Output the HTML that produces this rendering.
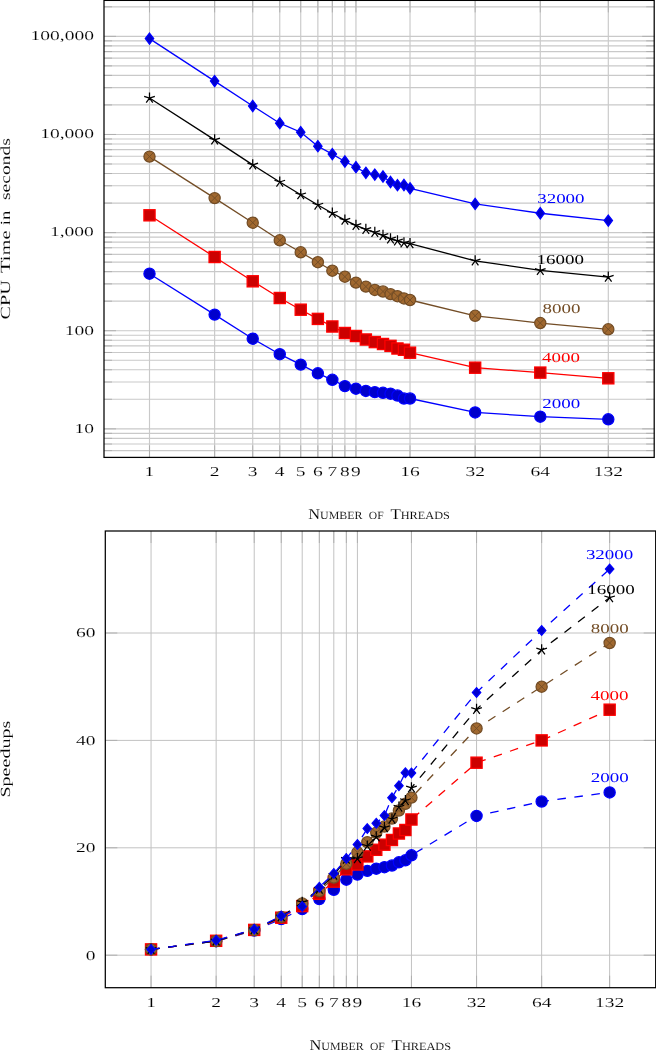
<!DOCTYPE html>
<html lang="en"><head><meta charset="utf-8"><title>CPU time and speedups</title>
<style>html,body{margin:0;padding:0;background:#fff}body{width:656px;height:1050px;overflow:hidden}svg{display:block;font-family:'Liberation Serif', serif}</style>
</head><body>
<svg width="656" height="1050" viewBox="0 0 656 1050">
<rect width="656" height="1050" fill="#fff"/>
<path d="M149.5 0.4L149.5 457.4M214.63 0.4L214.63 457.4M252.73 0.4L252.73 457.4M279.76 0.4L279.76 457.4M300.73 0.4L300.73 457.4M317.86 0.4L317.86 457.4M332.34 0.4L332.34 457.4M344.89 0.4L344.89 457.4M355.96 0.4L355.96 457.4M410.02 0.4L410.02 457.4M475.15 0.4L475.15 457.4M540.28 0.4L540.28 457.4M608.3 0.4L608.3 457.4" stroke="#c9c9c9" stroke-width="1.15" fill="none"/>
<path d="M104 428.83L654.2 428.83M104 330.71L654.2 330.71M104 232.59L654.2 232.59M104 134.47L654.2 134.47M104 36.35L654.2 36.35M104 450.6L654.2 450.6M104 444.03L654.2 444.03M104 438.34L654.2 438.34M104 433.32L654.2 433.32M104 399.29L654.2 399.29M104 382.01L654.2 382.01M104 369.76L654.2 369.76M104 360.25L654.2 360.25M104 352.48L654.2 352.48M104 345.91L654.2 345.91M104 340.22L654.2 340.22M104 335.2L654.2 335.2M104 301.17L654.2 301.17M104 283.89L654.2 283.89M104 271.64L654.2 271.64M104 262.13L654.2 262.13M104 254.36L654.2 254.36M104 247.79L654.2 247.79M104 242.1L654.2 242.1M104 237.08L654.2 237.08M104 203.05L654.2 203.05M104 185.77L654.2 185.77M104 173.52L654.2 173.52M104 164.01L654.2 164.01M104 156.24L654.2 156.24M104 149.67L654.2 149.67M104 143.98L654.2 143.98M104 138.96L654.2 138.96M104 104.93L654.2 104.93M104 87.65L654.2 87.65M104 75.4L654.2 75.4M104 65.89L654.2 65.89M104 58.12L654.2 58.12M104 51.55L654.2 51.55M104 45.86L654.2 45.86M104 40.84L654.2 40.84M104 6.81L654.2 6.81" stroke="#c9c9c9" stroke-width="1.15" fill="none"/>
<path d="M149.5 457.4L149.5 445.4M149.5 0.4L149.5 12.4M214.63 457.4L214.63 445.4M214.63 0.4L214.63 12.4M252.73 457.4L252.73 445.4M252.73 0.4L252.73 12.4M279.76 457.4L279.76 445.4M279.76 0.4L279.76 12.4M300.73 457.4L300.73 445.4M300.73 0.4L300.73 12.4M317.86 457.4L317.86 445.4M317.86 0.4L317.86 12.4M332.34 457.4L332.34 445.4M332.34 0.4L332.34 12.4M344.89 457.4L344.89 445.4M344.89 0.4L344.89 12.4M355.96 457.4L355.96 445.4M355.96 0.4L355.96 12.4M410.02 457.4L410.02 445.4M410.02 0.4L410.02 12.4M475.15 457.4L475.15 445.4M475.15 0.4L475.15 12.4M540.28 457.4L540.28 445.4M540.28 0.4L540.28 12.4M608.3 457.4L608.3 445.4M608.3 0.4L608.3 12.4M104 428.83L116 428.83M654.2 428.83L642.2 428.83M104 330.71L116 330.71M654.2 330.71L642.2 330.71M104 232.59L116 232.59M654.2 232.59L642.2 232.59M104 134.47L116 134.47M654.2 134.47L642.2 134.47M104 36.35L116 36.35M654.2 36.35L642.2 36.35M104 450.6L112 450.6M654.2 450.6L646.2 450.6M104 444.03L112 444.03M654.2 444.03L646.2 444.03M104 438.34L112 438.34M654.2 438.34L646.2 438.34M104 433.32L112 433.32M654.2 433.32L646.2 433.32M104 399.29L112 399.29M654.2 399.29L646.2 399.29M104 382.01L112 382.01M654.2 382.01L646.2 382.01M104 369.76L112 369.76M654.2 369.76L646.2 369.76M104 360.25L112 360.25M654.2 360.25L646.2 360.25M104 352.48L112 352.48M654.2 352.48L646.2 352.48M104 345.91L112 345.91M654.2 345.91L646.2 345.91M104 340.22L112 340.22M654.2 340.22L646.2 340.22M104 335.2L112 335.2M654.2 335.2L646.2 335.2M104 301.17L112 301.17M654.2 301.17L646.2 301.17M104 283.89L112 283.89M654.2 283.89L646.2 283.89M104 271.64L112 271.64M654.2 271.64L646.2 271.64M104 262.13L112 262.13M654.2 262.13L646.2 262.13M104 254.36L112 254.36M654.2 254.36L646.2 254.36M104 247.79L112 247.79M654.2 247.79L646.2 247.79M104 242.1L112 242.1M654.2 242.1L646.2 242.1M104 237.08L112 237.08M654.2 237.08L646.2 237.08M104 203.05L112 203.05M654.2 203.05L646.2 203.05M104 185.77L112 185.77M654.2 185.77L646.2 185.77M104 173.52L112 173.52M654.2 173.52L646.2 173.52M104 164.01L112 164.01M654.2 164.01L646.2 164.01M104 156.24L112 156.24M654.2 156.24L646.2 156.24M104 149.67L112 149.67M654.2 149.67L646.2 149.67M104 143.98L112 143.98M654.2 143.98L646.2 143.98M104 138.96L112 138.96M654.2 138.96L646.2 138.96M104 104.93L112 104.93M654.2 104.93L646.2 104.93M104 87.65L112 87.65M654.2 87.65L646.2 87.65M104 75.4L112 75.4M654.2 75.4L646.2 75.4M104 65.89L112 65.89M654.2 65.89L646.2 65.89M104 58.12L112 58.12M654.2 58.12L646.2 58.12M104 51.55L112 51.55M654.2 51.55L646.2 51.55M104 45.86L112 45.86M654.2 45.86L646.2 45.86M104 40.84L112 40.84M654.2 40.84L646.2 40.84M104 6.81L112 6.81M654.2 6.81L646.2 6.81" stroke="#adadad" stroke-width="0.9" fill="none"/>
<rect x="104" y="0.4" width="550.2" height="457" fill="none" stroke="#000" stroke-width="1.25"/>
<polyline points="149.5,273.7 214.63,314.6 252.73,338.7 279.76,354.2 300.73,364.6 317.86,373.3 332.34,379.8 344.89,386.1 355.96,388.7 365.86,390.9 374.81,392.1 382.99,392.8 390.51,393.7 397.47,395.5 403.96,398.5 410.02,398.5 475.15,412.4 540.28,416.65 608.3,419.3" fill="none" stroke="#0000ff" stroke-width="1.3"/>
<g fill="#0000cc" stroke="#0000ff" stroke-width="1.25" stroke-linejoin="miter"><circle cx="149.5" cy="273.7" r="5.6"/><circle cx="214.63" cy="314.6" r="5.6"/><circle cx="252.73" cy="338.7" r="5.6"/><circle cx="279.76" cy="354.2" r="5.6"/><circle cx="300.73" cy="364.6" r="5.6"/><circle cx="317.86" cy="373.3" r="5.6"/><circle cx="332.34" cy="379.8" r="5.6"/><circle cx="344.89" cy="386.1" r="5.6"/><circle cx="355.96" cy="388.7" r="5.6"/><circle cx="365.86" cy="390.9" r="5.6"/><circle cx="374.81" cy="392.1" r="5.6"/><circle cx="382.99" cy="392.8" r="5.6"/><circle cx="390.51" cy="393.7" r="5.6"/><circle cx="397.47" cy="395.5" r="5.6"/><circle cx="403.96" cy="398.5" r="5.6"/><circle cx="410.02" cy="398.5" r="5.6"/><circle cx="475.15" cy="412.4" r="5.6"/><circle cx="540.28" cy="416.65" r="5.6"/><circle cx="608.3" cy="419.3" r="5.6"/></g>
<polyline points="149.5,215.3 214.63,257 252.73,281.3 279.76,298 300.73,309.7 317.86,318.9 332.34,326.5 344.89,333 355.96,336 365.86,339.5 374.81,342.1 382.99,344 390.51,345.85 397.47,348.5 403.96,349.75 410.02,352.7 475.15,367.7 540.28,372.6 608.3,378.3" fill="none" stroke="#ff0000" stroke-width="1.3"/>
<g fill="#cc0000" stroke="#ff0000" stroke-width="1.25" stroke-linejoin="miter"><rect x="143.9" y="209.7" width="11.2" height="11.2"/><rect x="209.03" y="251.4" width="11.2" height="11.2"/><rect x="247.13" y="275.7" width="11.2" height="11.2"/><rect x="274.16" y="292.4" width="11.2" height="11.2"/><rect x="295.13" y="304.1" width="11.2" height="11.2"/><rect x="312.26" y="313.3" width="11.2" height="11.2"/><rect x="326.74" y="320.9" width="11.2" height="11.2"/><rect x="339.29" y="327.4" width="11.2" height="11.2"/><rect x="350.36" y="330.4" width="11.2" height="11.2"/><rect x="360.26" y="333.9" width="11.2" height="11.2"/><rect x="369.21" y="336.5" width="11.2" height="11.2"/><rect x="377.39" y="338.4" width="11.2" height="11.2"/><rect x="384.91" y="340.25" width="11.2" height="11.2"/><rect x="391.87" y="342.9" width="11.2" height="11.2"/><rect x="398.36" y="344.15" width="11.2" height="11.2"/><rect x="404.42" y="347.1" width="11.2" height="11.2"/><rect x="469.55" y="362.1" width="11.2" height="11.2"/><rect x="534.68" y="367" width="11.2" height="11.2"/><rect x="602.7" y="372.7" width="11.2" height="11.2"/></g>
<polyline points="149.5,156.6 214.63,198.1 252.73,222.7 279.76,240.3 300.73,252.3 317.86,262.2 332.34,270.7 344.89,276.7 355.96,282.6 365.86,286.6 374.81,289.9 382.99,291.5 390.51,294.1 397.47,296.2 403.96,298.4 410.02,300 475.15,315.8 540.28,323.05 608.3,329.3" fill="none" stroke="#734d26" stroke-width="1.3"/>
<g fill="#a0682f" stroke="#734d26" stroke-width="1.25" stroke-linejoin="miter"><circle cx="149.5" cy="156.6" r="5.6"/><path stroke-width="0.95" d="M145.54 152.64L153.46 160.56M145.54 160.56L153.46 152.64"/><circle cx="214.63" cy="198.1" r="5.6"/><path stroke-width="0.95" d="M210.67 194.14L218.59 202.06M210.67 202.06L218.59 194.14"/><circle cx="252.73" cy="222.7" r="5.6"/><path stroke-width="0.95" d="M248.77 218.74L256.69 226.66M248.77 226.66L256.69 218.74"/><circle cx="279.76" cy="240.3" r="5.6"/><path stroke-width="0.95" d="M275.8 236.34L283.72 244.26M275.8 244.26L283.72 236.34"/><circle cx="300.73" cy="252.3" r="5.6"/><path stroke-width="0.95" d="M296.77 248.34L304.69 256.26M296.77 256.26L304.69 248.34"/><circle cx="317.86" cy="262.2" r="5.6"/><path stroke-width="0.95" d="M313.9 258.24L321.82 266.16M313.9 266.16L321.82 258.24"/><circle cx="332.34" cy="270.7" r="5.6"/><path stroke-width="0.95" d="M328.38 266.74L336.3 274.66M328.38 274.66L336.3 266.74"/><circle cx="344.89" cy="276.7" r="5.6"/><path stroke-width="0.95" d="M340.93 272.74L348.85 280.66M340.93 280.66L348.85 272.74"/><circle cx="355.96" cy="282.6" r="5.6"/><path stroke-width="0.95" d="M352 278.64L359.92 286.56M352 286.56L359.92 278.64"/><circle cx="365.86" cy="286.6" r="5.6"/><path stroke-width="0.95" d="M361.9 282.64L369.82 290.56M361.9 290.56L369.82 282.64"/><circle cx="374.81" cy="289.9" r="5.6"/><path stroke-width="0.95" d="M370.85 285.94L378.77 293.86M370.85 293.86L378.77 285.94"/><circle cx="382.99" cy="291.5" r="5.6"/><path stroke-width="0.95" d="M379.03 287.54L386.95 295.46M379.03 295.46L386.95 287.54"/><circle cx="390.51" cy="294.1" r="5.6"/><path stroke-width="0.95" d="M386.55 290.14L394.47 298.06M386.55 298.06L394.47 290.14"/><circle cx="397.47" cy="296.2" r="5.6"/><path stroke-width="0.95" d="M393.51 292.24L401.43 300.16M393.51 300.16L401.43 292.24"/><circle cx="403.96" cy="298.4" r="5.6"/><path stroke-width="0.95" d="M400 294.44L407.92 302.36M400 302.36L407.92 294.44"/><circle cx="410.02" cy="300" r="5.6"/><path stroke-width="0.95" d="M406.06 296.04L413.98 303.96M406.06 303.96L413.98 296.04"/><circle cx="475.15" cy="315.8" r="5.6"/><path stroke-width="0.95" d="M471.19 311.84L479.11 319.76M471.19 319.76L479.11 311.84"/><circle cx="540.28" cy="323.05" r="5.6"/><path stroke-width="0.95" d="M536.32 319.09L544.24 327.01M536.32 327.01L544.24 319.09"/><circle cx="608.3" cy="329.3" r="5.6"/><path stroke-width="0.95" d="M604.34 325.34L612.26 333.26M604.34 333.26L612.26 325.34"/></g>
<polyline points="149.5,98.05 214.63,139.9 252.73,164.9 279.76,182 300.73,194.7 317.86,205 332.34,213.2 344.89,220.1 355.96,225.3 365.86,229.3 374.81,232.3 382.99,235.4 390.51,238.8 397.47,240.9 403.96,242.9 410.02,243.7 475.15,260.8 540.28,270.3 608.3,277.1" fill="none" stroke="#000000" stroke-width="1.3"/>
<g fill="none" stroke="#000000" stroke-width="1.25" stroke-linejoin="miter"><path d="M149.5 98.05L149.5 92.45M149.5 98.05L144.17 96.32M149.5 98.05L146.21 102.58M149.5 98.05L152.79 102.58M149.5 98.05L154.83 96.32"/><path d="M214.63 139.9L214.63 134.3M214.63 139.9L209.3 138.17M214.63 139.9L211.34 144.43M214.63 139.9L217.92 144.43M214.63 139.9L219.96 138.17"/><path d="M252.73 164.9L252.73 159.3M252.73 164.9L247.4 163.17M252.73 164.9L249.44 169.43M252.73 164.9L256.02 169.43M252.73 164.9L258.05 163.17"/><path d="M279.76 182L279.76 176.4M279.76 182L274.43 180.27M279.76 182L276.47 186.53M279.76 182L283.05 186.53M279.76 182L285.09 180.27"/><path d="M300.73 194.7L300.73 189.1M300.73 194.7L295.4 192.97M300.73 194.7L297.44 199.23M300.73 194.7L304.02 199.23M300.73 194.7L306.05 192.97"/><path d="M317.86 205L317.86 199.4M317.86 205L312.53 203.27M317.86 205L314.57 209.53M317.86 205L321.15 209.53M317.86 205L323.18 203.27"/><path d="M332.34 213.2L332.34 207.6M332.34 213.2L327.02 211.47M332.34 213.2L329.05 217.73M332.34 213.2L335.63 217.73M332.34 213.2L337.67 211.47"/><path d="M344.89 220.1L344.89 214.5M344.89 220.1L339.56 218.37M344.89 220.1L341.6 224.63M344.89 220.1L348.18 224.63M344.89 220.1L350.22 218.37"/><path d="M355.96 225.3L355.96 219.7M355.96 225.3L350.63 223.57M355.96 225.3L352.67 229.83M355.96 225.3L359.25 229.83M355.96 225.3L361.28 223.57"/><path d="M365.86 229.3L365.86 223.7M365.86 229.3L360.53 227.57M365.86 229.3L362.57 233.83M365.86 229.3L369.15 233.83M365.86 229.3L371.18 227.57"/><path d="M374.81 232.3L374.81 226.7M374.81 232.3L369.49 230.57M374.81 232.3L371.52 236.83M374.81 232.3L378.1 236.83M374.81 232.3L380.14 230.57"/><path d="M382.99 235.4L382.99 229.8M382.99 235.4L377.66 233.67M382.99 235.4L379.7 239.93M382.99 235.4L386.28 239.93M382.99 235.4L388.31 233.67"/><path d="M390.51 238.8L390.51 233.2M390.51 238.8L385.18 237.07M390.51 238.8L387.22 243.33M390.51 238.8L393.8 243.33M390.51 238.8L395.84 237.07"/><path d="M397.47 240.9L397.47 235.3M397.47 240.9L392.15 239.17M397.47 240.9L394.18 245.43M397.47 240.9L400.76 245.43M397.47 240.9L402.8 239.17"/><path d="M403.96 242.9L403.96 237.3M403.96 242.9L398.63 241.17M403.96 242.9L400.66 247.43M403.96 242.9L407.25 247.43M403.96 242.9L409.28 241.17"/><path d="M410.02 243.7L410.02 238.1M410.02 243.7L404.69 241.97M410.02 243.7L406.73 248.23M410.02 243.7L413.31 248.23M410.02 243.7L415.35 241.97"/><path d="M475.15 260.8L475.15 255.2M475.15 260.8L469.82 259.07M475.15 260.8L471.86 265.33M475.15 260.8L478.44 265.33M475.15 260.8L480.48 259.07"/><path d="M540.28 270.3L540.28 264.7M540.28 270.3L534.95 268.57M540.28 270.3L536.99 274.83M540.28 270.3L543.57 274.83M540.28 270.3L545.61 268.57"/><path d="M608.3 277.1L608.3 271.5M608.3 277.1L602.98 275.37M608.3 277.1L605.01 281.63M608.3 277.1L611.59 281.63M608.3 277.1L613.63 275.37"/></g>
<polyline points="149.5,38.6 214.63,81.1 252.73,106 279.76,123.2 300.73,132.2 317.86,146.2 332.34,154.1 344.89,161.5 355.96,167.2 365.86,172.8 374.81,174.6 382.99,176.5 390.51,182 397.47,185.2 403.96,185 410.02,188.3 475.15,203.9 540.28,213.25 608.3,220.6" fill="none" stroke="#0000ff" stroke-width="1.3"/>
<g fill="#0000cc" stroke="#0000ff" stroke-width="1.25" stroke-linejoin="miter"><path d="M149.5 33L153.7 38.6L149.5 44.2L145.3 38.6Z"/><path d="M214.63 75.5L218.83 81.1L214.63 86.7L210.43 81.1Z"/><path d="M252.73 100.4L256.93 106L252.73 111.6L248.53 106Z"/><path d="M279.76 117.6L283.96 123.2L279.76 128.8L275.56 123.2Z"/><path d="M300.73 126.6L304.93 132.2L300.73 137.8L296.53 132.2Z"/><path d="M317.86 140.6L322.06 146.2L317.86 151.8L313.66 146.2Z"/><path d="M332.34 148.5L336.54 154.1L332.34 159.7L328.14 154.1Z"/><path d="M344.89 155.9L349.09 161.5L344.89 167.1L340.69 161.5Z"/><path d="M355.96 161.6L360.16 167.2L355.96 172.8L351.76 167.2Z"/><path d="M365.86 167.2L370.06 172.8L365.86 178.4L361.66 172.8Z"/><path d="M374.81 169L379.01 174.6L374.81 180.2L370.61 174.6Z"/><path d="M382.99 170.9L387.19 176.5L382.99 182.1L378.79 176.5Z"/><path d="M390.51 176.4L394.71 182L390.51 187.6L386.31 182Z"/><path d="M397.47 179.6L401.67 185.2L397.47 190.8L393.27 185.2Z"/><path d="M403.96 179.4L408.16 185L403.96 190.6L399.76 185Z"/><path d="M410.02 182.7L414.22 188.3L410.02 193.9L405.82 188.3Z"/><path d="M475.15 198.3L479.35 203.9L475.15 209.5L470.95 203.9Z"/><path d="M540.28 207.65L544.48 213.25L540.28 218.85L536.08 213.25Z"/><path d="M608.3 215L612.5 220.6L608.3 226.2L604.1 220.6Z"/></g>
<path d="M151.05 531L151.05 987.7M216.15 531L216.15 987.7M254.23 531L254.23 987.7M281.25 531L281.25 987.7M302.21 531L302.21 987.7M319.33 531L319.33 987.7M333.81 531L333.81 987.7M346.35 531L346.35 987.7M357.41 531L357.41 987.7M411.45 531L411.45 987.7M476.55 531L476.55 987.7M541.65 531L541.65 987.7M609.64 531L609.64 987.7" stroke="#c2c2c2" stroke-width="1" fill="none"/>
<path d="M105.3 955.2L655.7 955.2M105.3 847.8L655.7 847.8M105.3 740.4L655.7 740.4M105.3 633L655.7 633" stroke="#c2c2c2" stroke-width="1" fill="none"/>
<path d="M151.05 987.7L151.05 975.7M151.05 531L151.05 543M216.15 987.7L216.15 975.7M216.15 531L216.15 543M254.23 987.7L254.23 975.7M254.23 531L254.23 543M281.25 987.7L281.25 975.7M281.25 531L281.25 543M302.21 987.7L302.21 975.7M302.21 531L302.21 543M319.33 987.7L319.33 975.7M319.33 531L319.33 543M333.81 987.7L333.81 975.7M333.81 531L333.81 543M346.35 987.7L346.35 975.7M346.35 531L346.35 543M357.41 987.7L357.41 975.7M357.41 531L357.41 543M411.45 987.7L411.45 975.7M411.45 531L411.45 543M476.55 987.7L476.55 975.7M476.55 531L476.55 543M541.65 987.7L541.65 975.7M541.65 531L541.65 543M609.64 987.7L609.64 975.7M609.64 531L609.64 543M105.3 955.2L117.3 955.2M655.7 955.2L643.7 955.2M105.3 847.8L117.3 847.8M655.7 847.8L643.7 847.8M105.3 740.4L117.3 740.4M655.7 740.4L643.7 740.4M105.3 633L117.3 633M655.7 633L643.7 633" stroke="#adadad" stroke-width="0.9" fill="none"/>
<rect x="105.3" y="531" width="550.4" height="456.7" fill="none" stroke="#000" stroke-width="1.25"/>
<polyline points="151.05,949.4 216.15,941.2 254.23,930.5 281.25,919.1 302.21,909.1 319.33,899.1 333.81,889.8 346.35,879.65 357.41,874.6" fill="none" stroke="#0000ff" stroke-width="1.3" stroke-dasharray="8.57 8.57"/>
<polyline points="357.41,874.6 367.31,870.85 376.26,868.7 384.43,867.2 391.95,865.5 398.91,862.3 405.39,860.3 411.45,855.3 476.55,815.95 541.65,801.5 609.64,792.4" fill="none" stroke="#0000ff" stroke-width="1.3" stroke-dasharray="8.57 8.57" stroke-dashoffset="6.11"/>
<g fill="#0000cc" stroke="#0000ff" stroke-width="1.25" stroke-linejoin="miter"><circle cx="151.05" cy="949.4" r="5.6"/><circle cx="216.15" cy="941.2" r="5.6"/><circle cx="254.23" cy="930.5" r="5.6"/><circle cx="281.25" cy="919.1" r="5.6"/><circle cx="302.21" cy="909.1" r="5.6"/><circle cx="319.33" cy="899.1" r="5.6"/><circle cx="333.81" cy="889.8" r="5.6"/><circle cx="346.35" cy="879.65" r="5.6"/><circle cx="357.41" cy="874.6" r="5.6"/><circle cx="367.31" cy="870.85" r="5.6"/><circle cx="376.26" cy="868.7" r="5.6"/><circle cx="384.43" cy="867.2" r="5.6"/><circle cx="391.95" cy="865.5" r="5.6"/><circle cx="398.91" cy="862.3" r="5.6"/><circle cx="405.39" cy="860.3" r="5.6"/><circle cx="411.45" cy="855.3" r="5.6"/><circle cx="476.55" cy="815.95" r="5.6"/><circle cx="541.65" cy="801.5" r="5.6"/><circle cx="609.64" cy="792.4" r="5.6"/></g>
<polyline points="151.05,949.4 216.15,940.8 254.23,929.9 281.25,917.7 302.21,906.1 319.33,893.8 333.81,881.6 346.35,869.3 357.41,864.5" fill="none" stroke="#ff0000" stroke-width="1.3" stroke-dasharray="8.57 8.57"/>
<polyline points="357.41,864.5 367.31,856.4 376.26,849.8 384.43,844.7 391.95,840 398.91,833.5 405.39,830 411.45,819.5 476.55,762.7 541.65,740.4 609.64,709.7" fill="none" stroke="#ff0000" stroke-width="1.3" stroke-dasharray="8.57 8.57" stroke-dashoffset="12.53"/>
<g fill="#cc0000" stroke="#ff0000" stroke-width="1.25" stroke-linejoin="miter"><rect x="145.45" y="943.8" width="11.2" height="11.2"/><rect x="210.55" y="935.2" width="11.2" height="11.2"/><rect x="248.63" y="924.3" width="11.2" height="11.2"/><rect x="275.65" y="912.1" width="11.2" height="11.2"/><rect x="296.61" y="900.5" width="11.2" height="11.2"/><rect x="313.73" y="888.2" width="11.2" height="11.2"/><rect x="328.21" y="876" width="11.2" height="11.2"/><rect x="340.75" y="863.7" width="11.2" height="11.2"/><rect x="351.81" y="858.9" width="11.2" height="11.2"/><rect x="361.71" y="850.8" width="11.2" height="11.2"/><rect x="370.66" y="844.2" width="11.2" height="11.2"/><rect x="378.83" y="839.1" width="11.2" height="11.2"/><rect x="386.35" y="834.4" width="11.2" height="11.2"/><rect x="393.31" y="827.9" width="11.2" height="11.2"/><rect x="399.79" y="824.4" width="11.2" height="11.2"/><rect x="405.85" y="813.9" width="11.2" height="11.2"/><rect x="470.95" y="757.1" width="11.2" height="11.2"/><rect x="536.05" y="734.8" width="11.2" height="11.2"/><rect x="604.04" y="704.1" width="11.2" height="11.2"/></g>
<polyline points="151.05,949.4 216.15,941 254.23,930 281.25,916.9 302.21,903.5 319.33,891 333.81,877.6 346.35,863.7 357.41,852.3" fill="none" stroke="#734d26" stroke-width="1.3" stroke-dasharray="8.57 8.57"/>
<polyline points="357.41,852.3 367.31,842.2 376.26,832.8 384.43,826.5 391.95,818.5 398.91,810.5 405.39,803.8 411.45,797.6 476.55,728.4 541.65,686.7 609.64,643" fill="none" stroke="#734d26" stroke-width="1.3" stroke-dasharray="8.57 8.57" stroke-dashoffset="2.67"/>
<g fill="#a0682f" stroke="#734d26" stroke-width="1.25" stroke-linejoin="miter"><circle cx="151.05" cy="949.4" r="5.6"/><path stroke-width="0.95" d="M147.09 945.44L155.01 953.36M147.09 953.36L155.01 945.44"/><circle cx="216.15" cy="941" r="5.6"/><path stroke-width="0.95" d="M212.19 937.04L220.11 944.96M212.19 944.96L220.11 937.04"/><circle cx="254.23" cy="930" r="5.6"/><path stroke-width="0.95" d="M250.27 926.04L258.19 933.96M250.27 933.96L258.19 926.04"/><circle cx="281.25" cy="916.9" r="5.6"/><path stroke-width="0.95" d="M277.29 912.94L285.21 920.86M277.29 920.86L285.21 912.94"/><circle cx="302.21" cy="903.5" r="5.6"/><path stroke-width="0.95" d="M298.25 899.54L306.17 907.46M298.25 907.46L306.17 899.54"/><circle cx="319.33" cy="891" r="5.6"/><path stroke-width="0.95" d="M315.37 887.04L323.29 894.96M315.37 894.96L323.29 887.04"/><circle cx="333.81" cy="877.6" r="5.6"/><path stroke-width="0.95" d="M329.85 873.64L337.77 881.56M329.85 881.56L337.77 873.64"/><circle cx="346.35" cy="863.7" r="5.6"/><path stroke-width="0.95" d="M342.39 859.74L350.31 867.66M342.39 867.66L350.31 859.74"/><circle cx="357.41" cy="852.3" r="5.6"/><path stroke-width="0.95" d="M353.45 848.34L361.37 856.26M353.45 856.26L361.37 848.34"/><circle cx="367.31" cy="842.2" r="5.6"/><path stroke-width="0.95" d="M363.35 838.24L371.27 846.16M363.35 846.16L371.27 838.24"/><circle cx="376.26" cy="832.8" r="5.6"/><path stroke-width="0.95" d="M372.3 828.84L380.22 836.76M372.3 836.76L380.22 828.84"/><circle cx="384.43" cy="826.5" r="5.6"/><path stroke-width="0.95" d="M380.47 822.54L388.39 830.46M380.47 830.46L388.39 822.54"/><circle cx="391.95" cy="818.5" r="5.6"/><path stroke-width="0.95" d="M387.99 814.54L395.91 822.46M387.99 822.46L395.91 814.54"/><circle cx="398.91" cy="810.5" r="5.6"/><path stroke-width="0.95" d="M394.95 806.54L402.87 814.46M394.95 814.46L402.87 806.54"/><circle cx="405.39" cy="803.8" r="5.6"/><path stroke-width="0.95" d="M401.43 799.84L409.35 807.76M401.43 807.76L409.35 799.84"/><circle cx="411.45" cy="797.6" r="5.6"/><path stroke-width="0.95" d="M407.49 793.64L415.41 801.56M407.49 801.56L415.41 793.64"/><circle cx="476.55" cy="728.4" r="5.6"/><path stroke-width="0.95" d="M472.59 724.44L480.51 732.36M472.59 732.36L480.51 724.44"/><circle cx="541.65" cy="686.7" r="5.6"/><path stroke-width="0.95" d="M537.69 682.74L545.61 690.66M537.69 690.66L545.61 682.74"/><circle cx="609.64" cy="643" r="5.6"/><path stroke-width="0.95" d="M605.68 639.04L613.6 646.96M605.68 646.96L613.6 639.04"/></g>
<polyline points="151.05,949.4 216.15,940.9 254.23,929.5 281.25,916.7 302.21,902.3 319.33,889 333.81,875.2 346.35,859.1 357.41,858.6" fill="none" stroke="#000000" stroke-width="1.3" stroke-dasharray="8.57 8.57"/>
<polyline points="357.41,858.6 367.31,846 376.26,836.8 384.43,827.6 391.95,819 398.91,807 405.39,800.5 411.45,787.8 476.55,709.3 541.65,649.9 609.64,597.7" fill="none" stroke="#000000" stroke-width="1.3" stroke-dasharray="8.57 8.57" stroke-dashoffset="17.1"/>
<g fill="none" stroke="#000000" stroke-width="1.25" stroke-linejoin="miter"><path d="M151.05 949.4L151.05 943.8M151.05 949.4L145.72 947.67M151.05 949.4L147.76 953.93M151.05 949.4L154.34 953.93M151.05 949.4L156.38 947.67"/><path d="M216.15 940.9L216.15 935.3M216.15 940.9L210.82 939.17M216.15 940.9L212.86 945.43M216.15 940.9L219.44 945.43M216.15 940.9L221.48 939.17"/><path d="M254.23 929.5L254.23 923.9M254.23 929.5L248.91 927.77M254.23 929.5L250.94 934.03M254.23 929.5L257.52 934.03M254.23 929.5L259.56 927.77"/><path d="M281.25 916.7L281.25 911.1M281.25 916.7L275.92 914.97M281.25 916.7L277.96 921.23M281.25 916.7L284.54 921.23M281.25 916.7L286.58 914.97"/><path d="M302.21 902.3L302.21 896.7M302.21 902.3L296.88 900.57M302.21 902.3L298.92 906.83M302.21 902.3L305.5 906.83M302.21 902.3L307.53 900.57"/><path d="M319.33 889L319.33 883.4M319.33 889L314.01 887.27M319.33 889L316.04 893.53M319.33 889L322.62 893.53M319.33 889L324.66 887.27"/><path d="M333.81 875.2L333.81 869.6M333.81 875.2L328.48 873.47M333.81 875.2L330.52 879.73M333.81 875.2L337.1 879.73M333.81 875.2L339.13 873.47"/><path d="M346.35 859.1L346.35 853.5M346.35 859.1L341.02 857.37M346.35 859.1L343.06 863.63M346.35 859.1L349.64 863.63M346.35 859.1L351.68 857.37"/><path d="M357.41 858.6L357.41 853M357.41 858.6L352.09 856.87M357.41 858.6L354.12 863.13M357.41 858.6L360.7 863.13M357.41 858.6L362.74 856.87"/><path d="M367.31 846L367.31 840.4M367.31 846L361.98 844.27M367.31 846L364.02 850.53M367.31 846L370.6 850.53M367.31 846L372.63 844.27"/><path d="M376.26 836.8L376.26 831.2M376.26 836.8L370.93 835.07M376.26 836.8L372.97 841.33M376.26 836.8L379.55 841.33M376.26 836.8L381.58 835.07"/><path d="M384.43 827.6L384.43 822M384.43 827.6L379.11 825.87M384.43 827.6L381.14 832.13M384.43 827.6L387.72 832.13M384.43 827.6L389.76 825.87"/><path d="M391.95 819L391.95 813.4M391.95 819L386.62 817.27M391.95 819L388.66 823.53M391.95 819L395.24 823.53M391.95 819L397.27 817.27"/><path d="M398.91 807L398.91 801.4M398.91 807L393.58 805.27M398.91 807L395.62 811.53M398.91 807L402.2 811.53M398.91 807L404.23 805.27"/><path d="M405.39 800.5L405.39 794.9M405.39 800.5L400.06 798.77M405.39 800.5L402.1 805.03M405.39 800.5L408.68 805.03M405.39 800.5L410.71 798.77"/><path d="M411.45 787.8L411.45 782.2M411.45 787.8L406.12 786.07M411.45 787.8L408.16 792.33M411.45 787.8L414.74 792.33M411.45 787.8L416.78 786.07"/><path d="M476.55 709.3L476.55 703.7M476.55 709.3L471.22 707.57M476.55 709.3L473.26 713.83M476.55 709.3L479.84 713.83M476.55 709.3L481.88 707.57"/><path d="M541.65 649.9L541.65 644.3M541.65 649.9L536.32 648.17M541.65 649.9L538.36 654.43M541.65 649.9L544.94 654.43M541.65 649.9L546.98 648.17"/><path d="M609.64 597.7L609.64 592.1M609.64 597.7L604.31 595.97M609.64 597.7L606.35 602.23M609.64 597.7L612.93 602.23M609.64 597.7L614.97 595.97"/></g>
<polyline points="151.05,949.4 216.15,940.3 254.23,929.3 281.25,915.9 302.21,906.5 319.33,887.2 333.81,873.4 346.35,858.6 357.41,844.5" fill="none" stroke="#0000ff" stroke-width="1.3" stroke-dasharray="8.57 8.57"/>
<polyline points="357.41,844.5 367.31,828.6 376.26,823.2 384.43,815.6 391.95,797.7 398.91,785.7 405.39,772.7 411.45,772.9 476.55,692.4 541.65,630.5 609.64,569" fill="none" stroke="#0000ff" stroke-width="1.3" stroke-dasharray="8.57 8.57" stroke-dashoffset="8.54"/>
<g fill="#0000cc" stroke="#0000ff" stroke-width="1.25" stroke-linejoin="miter"><path d="M151.05 944.6L155.25 949.4L151.05 954.2L146.85 949.4Z"/><path d="M216.15 935.5L220.35 940.3L216.15 945.1L211.95 940.3Z"/><path d="M254.23 924.5L258.43 929.3L254.23 934.1L250.03 929.3Z"/><path d="M281.25 911.1L285.45 915.9L281.25 920.7L277.05 915.9Z"/><path d="M302.21 901.7L306.41 906.5L302.21 911.3L298.01 906.5Z"/><path d="M319.33 882.4L323.53 887.2L319.33 892L315.13 887.2Z"/><path d="M333.81 868.6L338.01 873.4L333.81 878.2L329.61 873.4Z"/><path d="M346.35 853.8L350.55 858.6L346.35 863.4L342.15 858.6Z"/><path d="M357.41 839.7L361.61 844.5L357.41 849.3L353.21 844.5Z"/><path d="M367.31 823.8L371.51 828.6L367.31 833.4L363.11 828.6Z"/><path d="M376.26 818.4L380.46 823.2L376.26 828L372.06 823.2Z"/><path d="M384.43 810.8L388.63 815.6L384.43 820.4L380.23 815.6Z"/><path d="M391.95 792.9L396.15 797.7L391.95 802.5L387.75 797.7Z"/><path d="M398.91 780.9L403.11 785.7L398.91 790.5L394.71 785.7Z"/><path d="M405.39 767.9L409.59 772.7L405.39 777.5L401.19 772.7Z"/><path d="M411.45 768.1L415.65 772.9L411.45 777.7L407.25 772.9Z"/><path d="M476.55 687.6L480.75 692.4L476.55 697.2L472.35 692.4Z"/><path d="M541.65 625.7L545.85 630.5L541.65 635.3L537.45 630.5Z"/><path d="M609.64 564.2L613.84 569L609.64 573.8L605.44 569Z"/></g>
<g opacity="0.999" text-rendering="geometricPrecision" stroke="#fff" stroke-width="0.1">
<text x="93.9" y="39.65" font-size="13.6" text-anchor="end" fill="#000" textLength="63.4" lengthAdjust="spacingAndGlyphs">100,000</text>
<text x="93.9" y="137.77" font-size="13.6" text-anchor="end" fill="#000" textLength="53.66" lengthAdjust="spacingAndGlyphs">10,000</text>
<text x="93.9" y="235.89" font-size="13.6" text-anchor="end" fill="#000" textLength="43.92" lengthAdjust="spacingAndGlyphs">1,000</text>
<text x="93.9" y="335.11" font-size="13.6" text-anchor="end" fill="#000" textLength="29.22" lengthAdjust="spacingAndGlyphs">100</text>
<text x="93.9" y="433.23" font-size="13.6" text-anchor="end" fill="#000" textLength="19.48" lengthAdjust="spacingAndGlyphs">10</text>
<text x="95.5" y="959.5" font-size="13.6" text-anchor="end" fill="#000" textLength="9.74" lengthAdjust="spacingAndGlyphs">0</text>
<text x="95.5" y="852.1" font-size="13.6" text-anchor="end" fill="#000" textLength="19.48" lengthAdjust="spacingAndGlyphs">20</text>
<text x="95.5" y="744.7" font-size="13.6" text-anchor="end" fill="#000" textLength="19.48" lengthAdjust="spacingAndGlyphs">40</text>
<text x="95.5" y="637.3" font-size="13.6" text-anchor="end" fill="#000" textLength="19.48" lengthAdjust="spacingAndGlyphs">60</text>
<text x="149.5" y="476.3" font-size="13.6" text-anchor="middle" fill="#000" textLength="9.74" lengthAdjust="spacingAndGlyphs">1</text>
<text x="214.63" y="476.3" font-size="13.6" text-anchor="middle" fill="#000" textLength="9.74" lengthAdjust="spacingAndGlyphs">2</text>
<text x="252.73" y="476.3" font-size="13.6" text-anchor="middle" fill="#000" textLength="9.74" lengthAdjust="spacingAndGlyphs">3</text>
<text x="279.76" y="476.3" font-size="13.6" text-anchor="middle" fill="#000" textLength="9.74" lengthAdjust="spacingAndGlyphs">4</text>
<text x="300.73" y="476.3" font-size="13.6" text-anchor="middle" fill="#000" textLength="9.74" lengthAdjust="spacingAndGlyphs">5</text>
<text x="317.86" y="476.3" font-size="13.6" text-anchor="middle" fill="#000" textLength="9.74" lengthAdjust="spacingAndGlyphs">6</text>
<text x="332.34" y="476.3" font-size="13.6" text-anchor="middle" fill="#000" textLength="9.74" lengthAdjust="spacingAndGlyphs">7</text>
<text x="344.89" y="476.3" font-size="13.6" text-anchor="middle" fill="#000" textLength="9.74" lengthAdjust="spacingAndGlyphs">8</text>
<text x="355.96" y="476.3" font-size="13.6" text-anchor="middle" fill="#000" textLength="9.74" lengthAdjust="spacingAndGlyphs">9</text>
<text x="410.02" y="476.3" font-size="13.6" text-anchor="middle" fill="#000" textLength="19.48" lengthAdjust="spacingAndGlyphs">16</text>
<text x="475.15" y="476.3" font-size="13.6" text-anchor="middle" fill="#000" textLength="19.48" lengthAdjust="spacingAndGlyphs">32</text>
<text x="540.28" y="476.3" font-size="13.6" text-anchor="middle" fill="#000" textLength="19.48" lengthAdjust="spacingAndGlyphs">64</text>
<text x="608.3" y="476.3" font-size="13.6" text-anchor="middle" fill="#000" textLength="29.22" lengthAdjust="spacingAndGlyphs">132</text>
<text x="151.05" y="1006.6" font-size="13.6" text-anchor="middle" fill="#000" textLength="9.74" lengthAdjust="spacingAndGlyphs">1</text>
<text x="216.15" y="1006.6" font-size="13.6" text-anchor="middle" fill="#000" textLength="9.74" lengthAdjust="spacingAndGlyphs">2</text>
<text x="254.23" y="1006.6" font-size="13.6" text-anchor="middle" fill="#000" textLength="9.74" lengthAdjust="spacingAndGlyphs">3</text>
<text x="281.25" y="1006.6" font-size="13.6" text-anchor="middle" fill="#000" textLength="9.74" lengthAdjust="spacingAndGlyphs">4</text>
<text x="302.21" y="1006.6" font-size="13.6" text-anchor="middle" fill="#000" textLength="9.74" lengthAdjust="spacingAndGlyphs">5</text>
<text x="319.33" y="1006.6" font-size="13.6" text-anchor="middle" fill="#000" textLength="9.74" lengthAdjust="spacingAndGlyphs">6</text>
<text x="333.81" y="1006.6" font-size="13.6" text-anchor="middle" fill="#000" textLength="9.74" lengthAdjust="spacingAndGlyphs">7</text>
<text x="346.35" y="1006.6" font-size="13.6" text-anchor="middle" fill="#000" textLength="9.74" lengthAdjust="spacingAndGlyphs">8</text>
<text x="357.41" y="1006.6" font-size="13.6" text-anchor="middle" fill="#000" textLength="9.74" lengthAdjust="spacingAndGlyphs">9</text>
<text x="411.45" y="1006.6" font-size="13.6" text-anchor="middle" fill="#000" textLength="19.48" lengthAdjust="spacingAndGlyphs">16</text>
<text x="476.55" y="1006.6" font-size="13.6" text-anchor="middle" fill="#000" textLength="19.48" lengthAdjust="spacingAndGlyphs">32</text>
<text x="541.65" y="1006.6" font-size="13.6" text-anchor="middle" fill="#000" textLength="19.48" lengthAdjust="spacingAndGlyphs">64</text>
<text x="609.64" y="1006.6" font-size="13.6" text-anchor="middle" fill="#000" textLength="29.22" lengthAdjust="spacingAndGlyphs">132</text>
<text x="537.2" y="203.2" font-size="13.6" text-anchor="start" fill="#0000ff" textLength="47.4" lengthAdjust="spacingAndGlyphs" stroke="none">32000</text>
<text x="536.6" y="264.2" font-size="13.6" text-anchor="start" fill="#000" textLength="47.4" lengthAdjust="spacingAndGlyphs" stroke="none">16000</text>
<text x="542.5" y="312.7" font-size="13.6" text-anchor="start" fill="#734d26" textLength="37.92" lengthAdjust="spacingAndGlyphs" stroke="none">8000</text>
<text x="542" y="361.75" font-size="13.6" text-anchor="start" fill="#ff0000" textLength="37.92" lengthAdjust="spacingAndGlyphs" stroke="none">4000</text>
<text x="542.3" y="407.5" font-size="13.6" text-anchor="start" fill="#0000ff" textLength="37.92" lengthAdjust="spacingAndGlyphs" stroke="none">2000</text>
<text x="609.6" y="558.9" font-size="13.6" text-anchor="middle" fill="#0000ff" textLength="47.4" lengthAdjust="spacingAndGlyphs" stroke="none">32000</text>
<text x="611" y="593.5" font-size="13.6" text-anchor="middle" fill="#000" textLength="47.4" lengthAdjust="spacingAndGlyphs" stroke="none">16000</text>
<text x="609.8" y="633.3" font-size="13.6" text-anchor="middle" fill="#734d26" textLength="37.92" lengthAdjust="spacingAndGlyphs" stroke="none">8000</text>
<text x="609.5" y="699.6" font-size="13.6" text-anchor="middle" fill="#ff0000" textLength="37.92" lengthAdjust="spacingAndGlyphs" stroke="none">4000</text>
<text x="609.8" y="782.4" font-size="13.6" text-anchor="middle" fill="#0000ff" textLength="37.92" lengthAdjust="spacingAndGlyphs" stroke="none">2000</text>
<g transform="translate(10.2 319.2) rotate(-90)" font-size="14">
<text x="-0.3" y="0" font-size="14" text-anchor="start" fill="#000" textLength="39.3" lengthAdjust="spacingAndGlyphs">CPU</text>
<text x="46.2" y="0" font-size="14" text-anchor="start" fill="#000" textLength="42.6" lengthAdjust="spacingAndGlyphs">Time</text>
<text x="94" y="0" font-size="14" text-anchor="start" fill="#000" textLength="14.6" lengthAdjust="spacingAndGlyphs">in</text>
<text x="119.2" y="0" font-size="14" text-anchor="start" fill="#000" textLength="61.8" lengthAdjust="spacingAndGlyphs">seconds</text>
</g>
<text transform="translate(10 759.1) rotate(-90)" font-size="14" text-anchor="middle" textLength="77" lengthAdjust="spacingAndGlyphs">Speedups</text>
<text x="308.3" y="519.4" textLength="54.2" lengthAdjust="spacingAndGlyphs" font-size="15.1" style="font-variant:small-caps">Number</text>
<text x="368.8" y="519.4" textLength="14.8" lengthAdjust="spacingAndGlyphs" font-size="15.1" style="font-variant:small-caps">of</text>
<text x="390.4" y="519.4" textLength="59.5" lengthAdjust="spacingAndGlyphs" font-size="15.1" style="font-variant:small-caps">Threads</text>
<text x="309.5" y="1049.9" textLength="54.2" lengthAdjust="spacingAndGlyphs" font-size="15.1" style="font-variant:small-caps">Number</text>
<text x="370" y="1049.9" textLength="14.8" lengthAdjust="spacingAndGlyphs" font-size="15.1" style="font-variant:small-caps">of</text>
<text x="391.6" y="1049.9" textLength="59.5" lengthAdjust="spacingAndGlyphs" font-size="15.1" style="font-variant:small-caps">Threads</text>
</g>
</svg>
</body></html>
